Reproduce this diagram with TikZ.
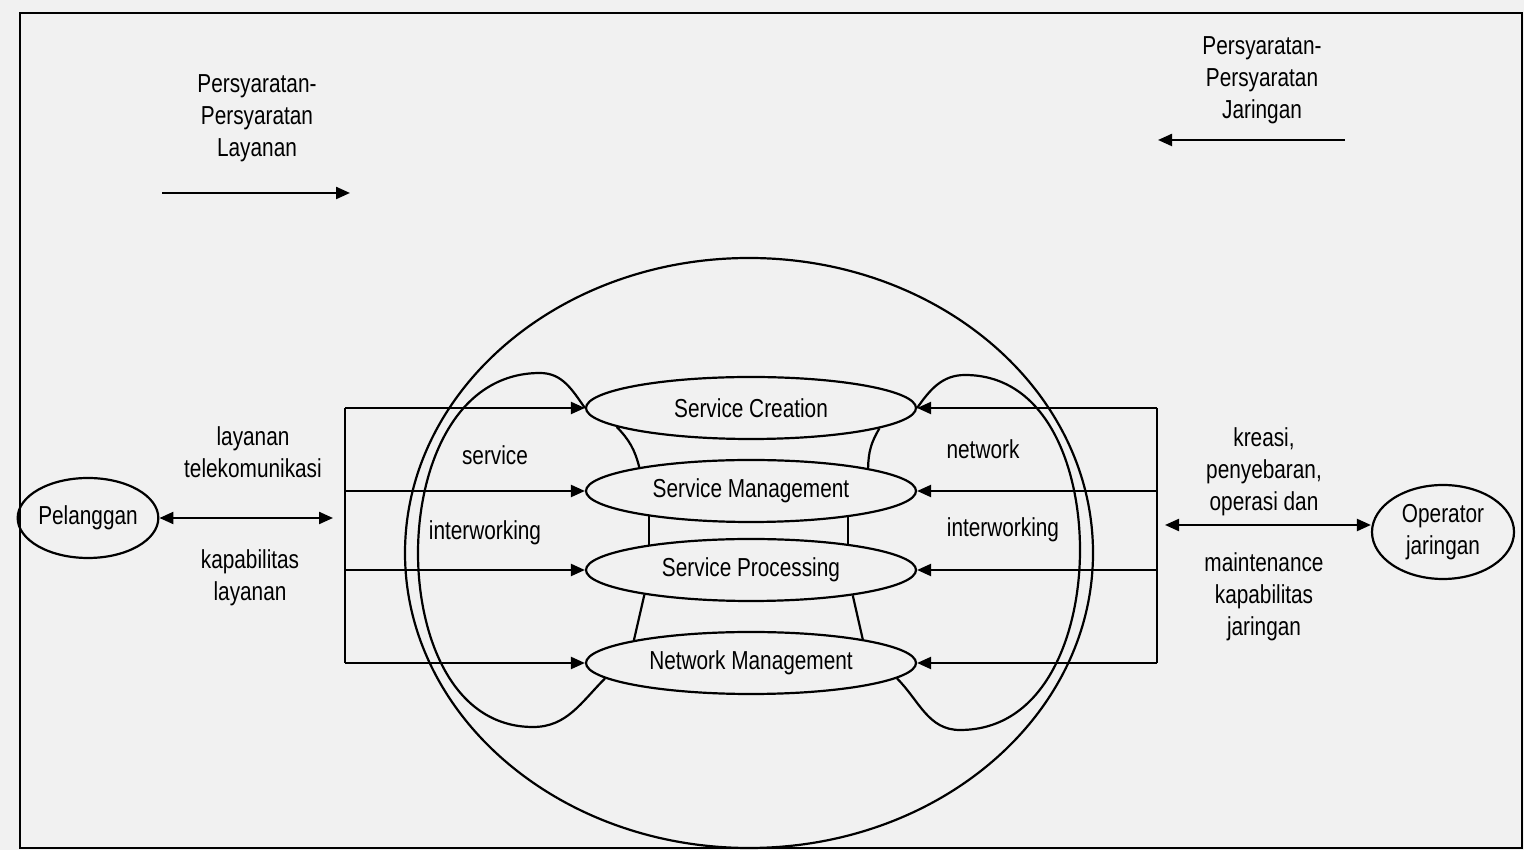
\documentclass[tikz,border=0pt]{standalone}
\usepackage{fontspec}
\setmainfont{Liberation Sans}[FakeStretch=0.8]
\usetikzlibrary{arrows.meta,shapes.geometric}

\definecolor{paper}{RGB}{241,241,241}

\begin{document}
\begin{tikzpicture}[x=0.5pt,y=0.5pt,>={Triangle[length=7pt,width=6pt]},line width=1.1pt,
  every node/.style={font=\fontsize{13}{16}\selectfont,align=center},
  block/.style={ellipse,draw,inner sep=0pt,minimum width=165pt,minimum height=31pt},
  actor/.style={ellipse,draw,inner sep=0pt,minimum width=70pt,minimum height=40pt}]

\useasboundingbox (0,0) rectangle (1524,850);
\fill[paper] (0,0) rectangle (1524,850);
\draw[line width=1.4pt] (20,2) rectangle (1522,837);

% big ring round the four functions
\node[ellipse,draw,inner sep=0pt,minimum width=344pt,minimum height=295pt] (core) at (749,297) {};

\node[block] (creation)   at (751,442) {Service Creation};
\node[block] (management) at (751,359) {Service Management};
\node[block] (processing) at (751,280) {Service Processing};
\node[block] (netmgmt)    at (751,187) {Network Management};

% links between the functions
\draw (creation.188) to[bend left=15] (management.168);
\draw (creation.351) to[bend right=15] (management.11);
\draw (management.194) -- (processing.166);
\draw (management.345) -- (processing.15);
\draw (processing.193) -- (netmgmt.169);
\draw (processing.346) -- (netmgmt.12);

% interworking loops
\draw (creation.west) to[out=125,in=0] (540,477) to[out=180,in=90] (418,297)
  to[out=-90,in=180] (533,123) to[out=0,in=-135] (netmgmt.186);
\draw (creation.east) to[out=55,in=180] (965,475) to[out=0,in=90] (1080,300)
  to[out=-90,in=0] (960,120) to[out=180,in=-45] (netmgmt.354);

\node at (495,395) {service};
\node at (485,317) {interworking};
\node at (983,401) {network};
\node at (1003,320) {interworking};

% feed lines into the functions
\coordinate (box_l) at (345,0);
\coordinate (box_r) at (1157,0);
\draw (creation.west -| box_l) -- (netmgmt.west -| box_l);
\draw (creation.east -| box_r) -- (netmgmt.east -| box_r);
\foreach \n in {creation,management,processing,netmgmt} {
  \draw[->] (\n.west -| box_l) -- (\n.west);
  \draw[->] (\n.east -| box_r) -- (\n.east);
}

% customer side
\node[actor] (pelanggan) at (88,332) {Pelanggan};
\coordinate (cust_end) at (333,332);
\draw[<->] (pelanggan.east) -- (cust_end);
\node (lbl_tel) at (253,398) {layanan\\telekomunikasi};
\node (lbl_kap) at (250,272) {kapabilitas\\layanan};

% operator side
\node[actor,minimum width=71pt,minimum height=47pt] (operator) at (1443,318) {Operator\\jaringan};
\coordinate (ops_end) at (1165,325);
\draw[<->] (ops_end) -- (ops_end -| operator.west);
\node (lbl_kreasi) at (1264,378) {kreasi,\\penyebaran,\\operasi dan};
\node (lbl_maint) at (1264,253) {maintenance\\kapabilitas\\jaringan};

% requirements
\node (req_layanan) at (257,732) {Persyaratan-\\Persyaratan\\Layanan};
\coordinate (req_l_from) at (162,657);
\coordinate (req_l_to) at (350,657);
\draw[->] (req_l_from) -- (req_l_to);

\node (req_jaringan) at (1262,770) {Persyaratan-\\Persyaratan\\Jaringan};
\coordinate (req_j_from) at (1345,710);
\coordinate (req_j_to) at (1158,710);
\draw[->] (req_j_from) -- (req_j_to);

\end{tikzpicture}
\end{document}
